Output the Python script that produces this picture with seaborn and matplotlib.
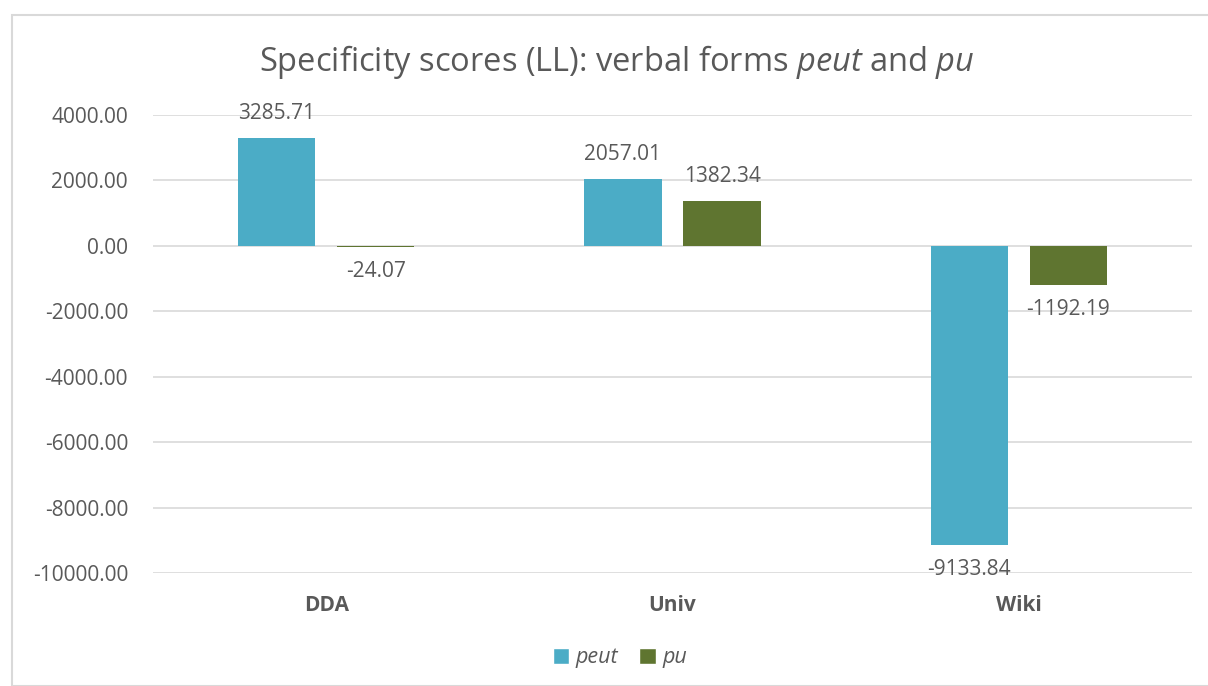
import matplotlib
matplotlib.use("Agg")
import matplotlib.pyplot as plt
import seaborn as sns
import pandas as pd
from matplotlib.patches import Rectangle, Patch

categories = ["DDA", "Univ", "Wiki"]
peut = [3285.71, 2057.01, -9133.84]
pu = [-24.07, 1382.34, -1192.19]
series = ["peut", "pu"]
colors = ["#4BACC6", "#5F7530"]
yticks = [4000, 2000, 0, -2000, -4000, -6000, -8000, -10000]

df = pd.DataFrame({
    "corpus": categories * 2,
    "form": ["peut"] * 3 + ["pu"] * 3,
    "score": peut + pu,
})

sns.set_style("white")
plt.rcParams["font.family"] = ["Open Sans", "DejaVu Sans"]
plt.rcParams["mathtext.fontset"] = "custom"
plt.rcParams["mathtext.rm"] = "Open Sans"
plt.rcParams["mathtext.it"] = "Open Sans:italic"
txt = "#595959"
grid = "#D9D9D9"

fig = plt.figure(figsize=(12.08, 6.86), dpi=100)
fig.patches.append(Rectangle((12 / 1208, 0), 1.1, (686 - 15) / 686, transform=fig.transFigure,
                             fill=False, edgecolor=grid, linewidth=1.5))
ax = fig.add_axes([153 / 1208, 1 - 573 / 686, (1192 - 153) / 1208, (573 - 115) / 686])

sns.barplot(data=df, x="corpus", y="score", hue="form", palette=colors,
            width=0.572, gap=0.222, ax=ax, legend=False, saturation=1, linewidth=0)

for c in ax.containers:
    ax.bar_label(c, fmt="%.2f", padding=10, fontsize=15, color=txt)

ax.set_ylim(-10000, 4000)
ax.set_xlim(-0.5, 2.5)
ax.set_yticks(yticks)
ax.set_yticklabels([f"{v:.2f}" for v in yticks])
ax.yaxis.grid(True, color=grid, linewidth=1.2)
ax.set_axisbelow(True)
for s in ax.spines.values():
    s.set_visible(False)
ax.tick_params(axis="y", length=0, pad=18, labelsize=15, labelcolor=txt)
ax.tick_params(axis="x", length=0, pad=16, labelsize=15, labelcolor=txt)
for lab in ax.get_xticklabels():
    lab.set_fontweight("bold")
ax.set_xlabel("")
ax.set_ylabel("")

fig.text(0.511, 1 - 62 / 686, r"Specificity scores (LL): verbal forms $\it{peut}$ and $\it{pu}$",
         ha="center", va="center", fontsize=23.5, color=txt)

handles = [Patch(facecolor=colors[i], label=series[i]) for i in range(2)]
fig.legend(handles=handles, loc="center", bbox_to_anchor=(0.513, 1 - 658 / 686), ncol=2,
           frameon=False, handlelength=0.75, handleheight=0.75, handletextpad=0.3,
           columnspacing=1.0, prop={"style": "italic", "size": 15.5}, labelcolor=txt)

fig.savefig("out.png", dpi=100)
